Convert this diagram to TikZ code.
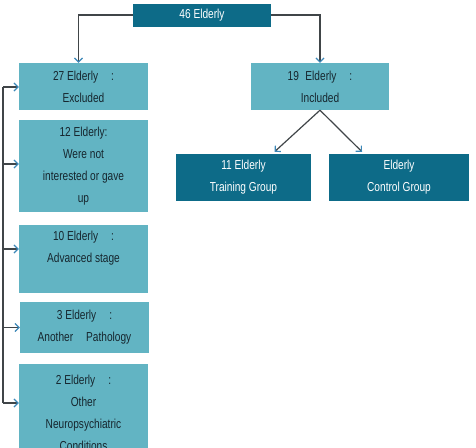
\documentclass[tikz,border=0pt]{standalone}
\usepackage{fontspec}
\setmainfont{Liberation Sans}[FakeStretch=0.78]
\usetikzlibrary{arrows.meta}
\definecolor{tealdark}{HTML}{0D6B88}
\definecolor{teallight}{HTML}{62B4C3}
\definecolor{tipblue}{HTML}{3C88B8}
\definecolor{linegrey}{HTML}{404548}
\definecolor{textdark}{HTML}{16262E}

\begin{document}
\begin{tikzpicture}[x=1pt,y=-1pt,>={Straight Barb[length=4pt,width=8pt,color=tipblue]},
    lightbox/.style={fill=teallight,text=textdark,inner sep=0pt,align=center,font=\fontsize{13}{22}\selectfont},
    darkbox/.style={fill=tealdark,text=white,inner sep=0pt,align=center,font=\fontsize{13}{22}\selectfont},
    link/.style={draw=linegrey,line width=1.2pt,->}]
      \useasboundingbox (0,0) rectangle (476,447);
      \clip (0,0) rectangle (476,447);
      \pgfmathsetmacro{\bw}{129}
      \node[darkbox, minimum width=138pt, minimum height=23pt] (all) at (202,15) {46 Elderly};
      \node[lightbox, minimum width=\bw pt, minimum height=47pt] (excl) at (83.5,86.5) {27 Elderly\quad:\\Excluded};
      \node[lightbox, minimum width=138pt, minimum height=47pt] (incl) at (320,86.5) {19\enspace Elderly\quad:\\Included};
      \node[lightbox, minimum width=\bw pt, minimum height=92pt] (gaveup) at (83.5,166) {12 Elderly:\\Were not\\interested or gave\\up};
      \node[lightbox, minimum width=\bw pt, minimum height=68pt] (stage) at (83.5,259) {10 Elderly\quad:\\Advanced stage\\[3pt]};
      \node[lightbox, minimum width=\bw pt, minimum height=51pt] (patho) at (84.5,327.5) {3 Elderly\quad:\\Another\quad Pathology};
      \node[lightbox, minimum width=\bw pt, minimum height=98pt] (neuro) at (83.5,413) {2 Elderly\quad:\\Other\\Neuropsychiatric\\Conditions};
      \node[darkbox, minimum width=135pt, minimum height=47pt] (train) at (243.5,177.5) {11 Elderly\\Training Group};
      \node[darkbox, minimum width=140pt, minimum height=47pt] (ctrl) at (399,177.5) {Elderly\\Control Group};

      \coordinate (bustop) at (3,87);
      \coordinate (busbot) at (3,403);
      \draw[link] (all.west) -| ([xshift=-5pt]excl.north);
      \draw[link] (all.east) -| (incl.north);
      \draw[link] (incl.south) -- ([xshift=31pt,yshift=2pt]train.north);
      \draw[link] (incl.south) -- ([xshift=-37pt,yshift=2pt]ctrl.north);
      \draw[draw=linegrey, line width=1.2pt] (bustop) -- (busbot);
      \draw[link] (bustop) -- (bustop -| excl.west);
      \draw[link] ([yshift=2pt]bustop |- gaveup.west) -- ([yshift=2pt]gaveup.west);
      \draw[link] ([yshift=10pt]bustop |- stage.west) -- ([yshift=10pt]stage.west);
      \draw[link] (bustop |- patho.west) -- (patho.west);
      \draw[link] (busbot) -- (busbot -| neuro.west);
    \end{tikzpicture}
\end{document}
